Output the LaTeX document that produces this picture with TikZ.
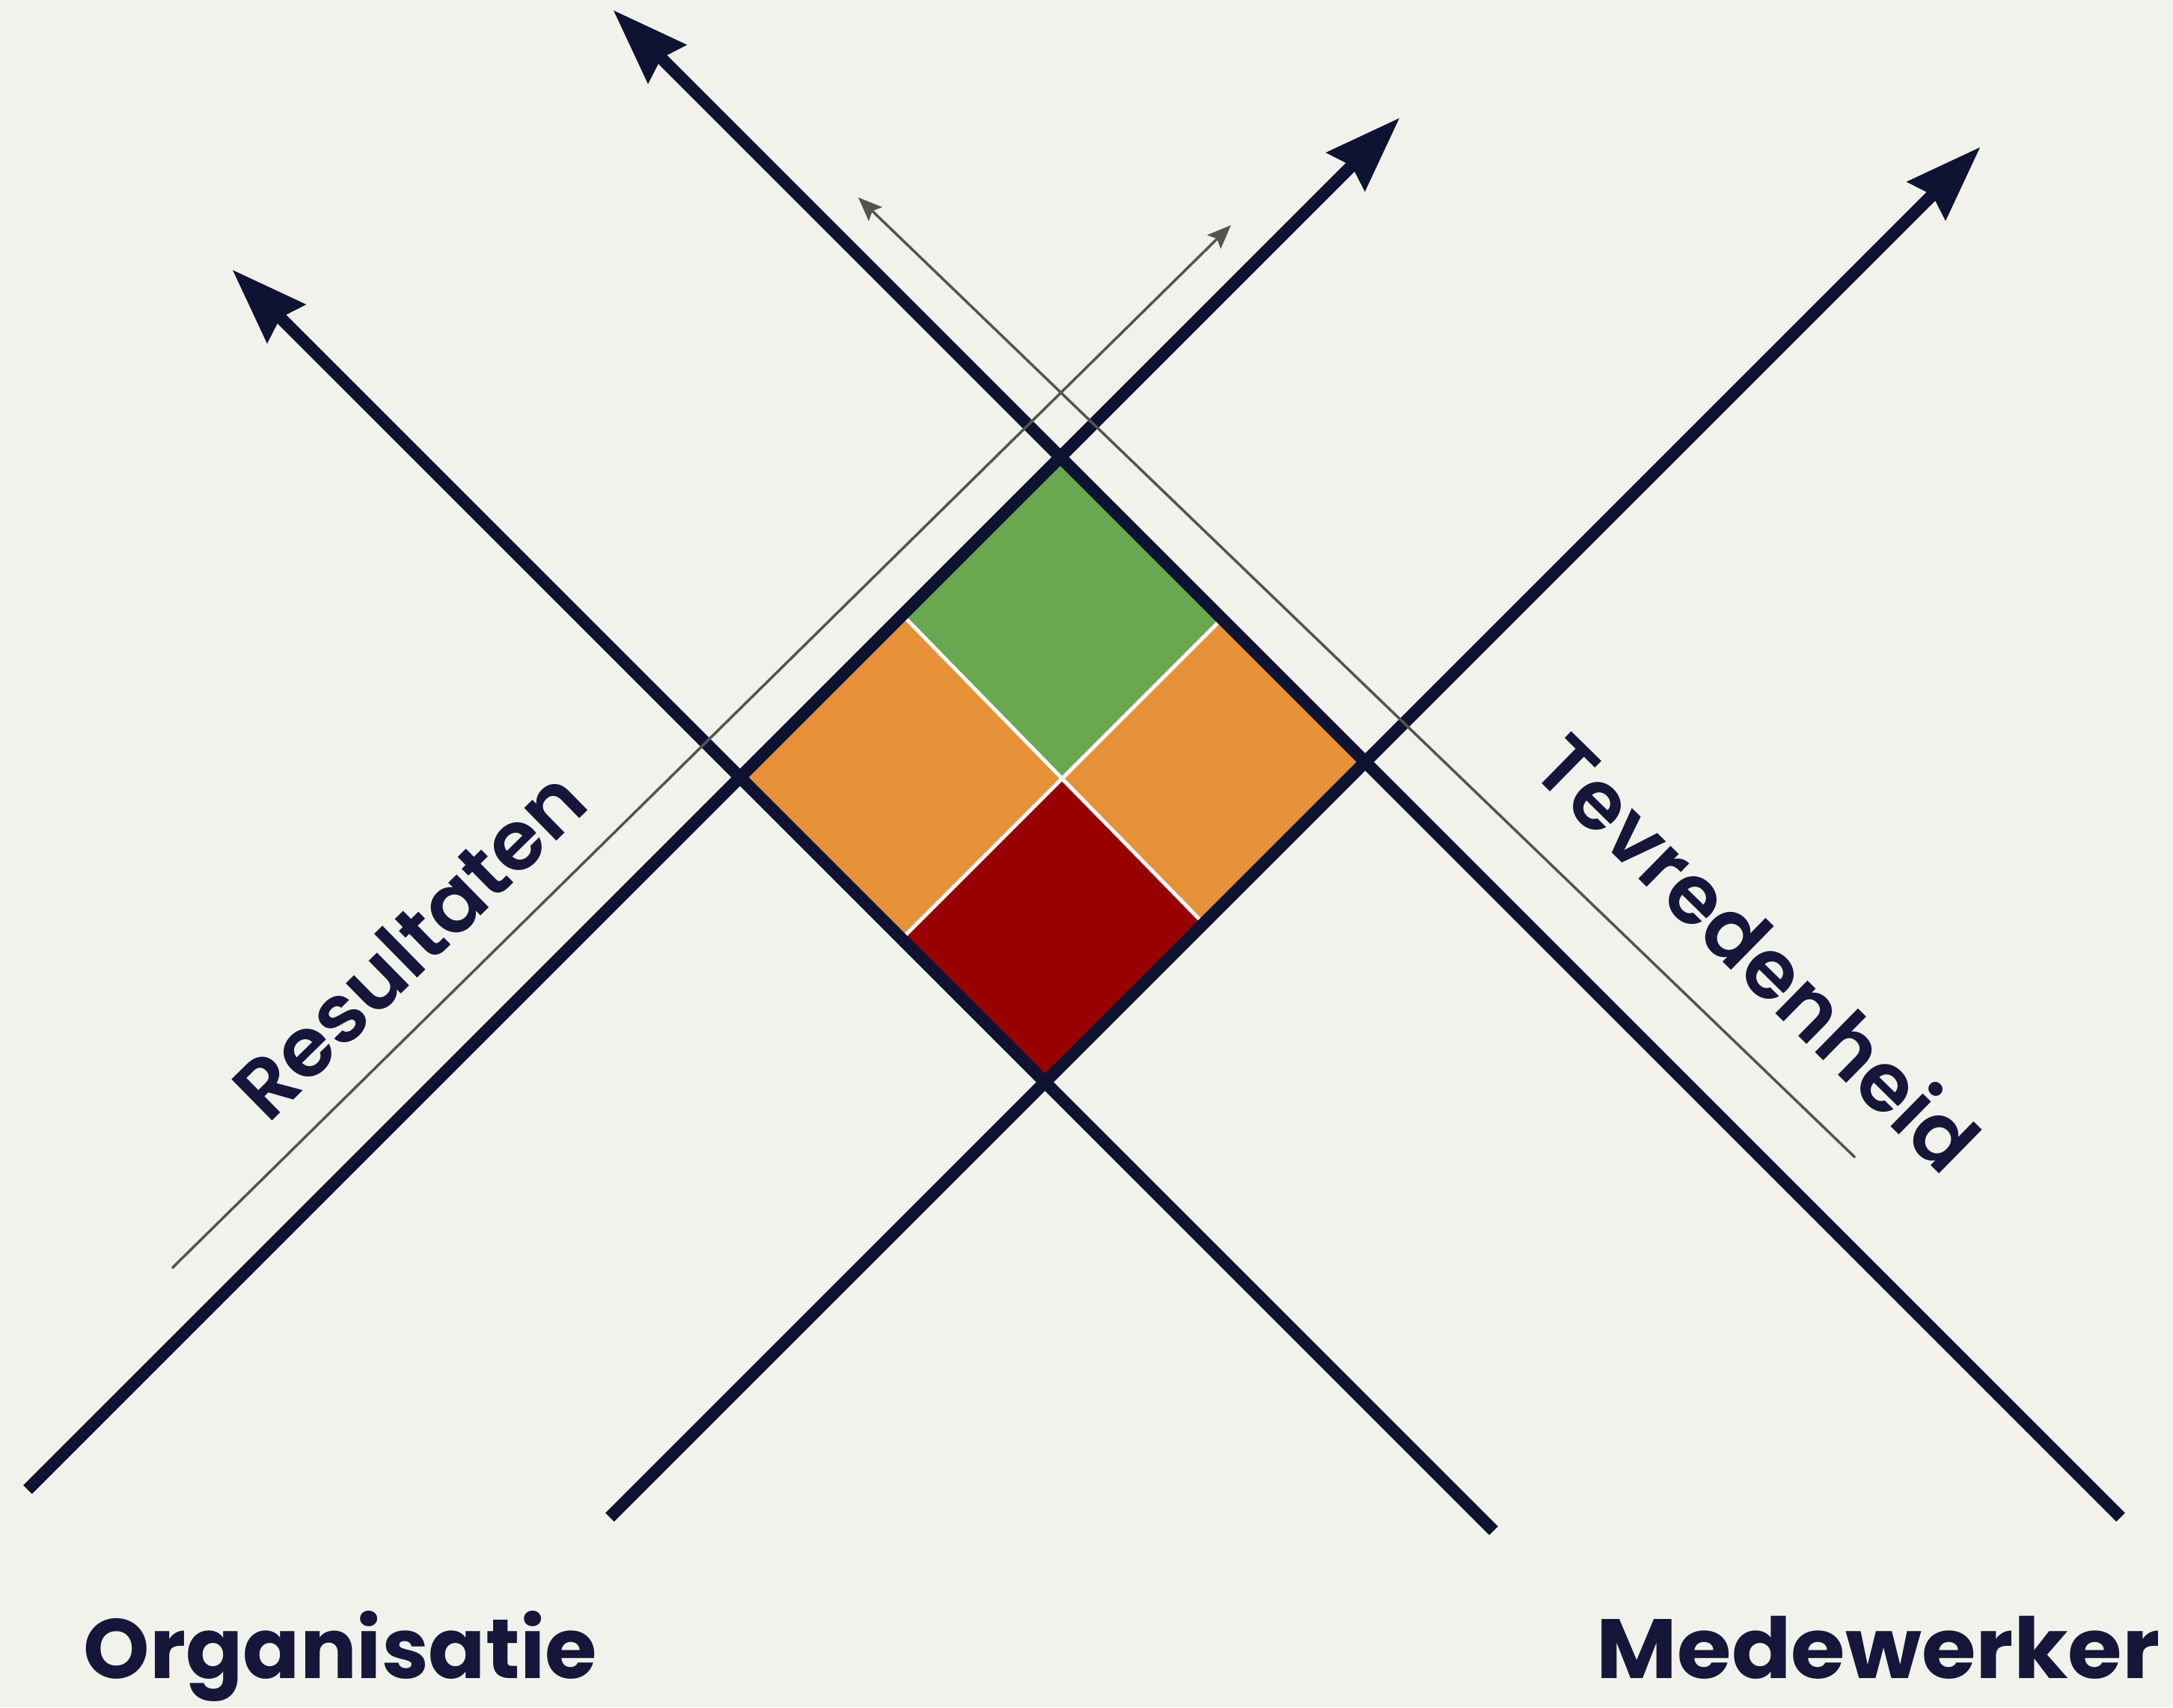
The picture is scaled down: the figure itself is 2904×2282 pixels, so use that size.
\documentclass[tikz,border=0pt]{standalone}
\usepackage{fontspec}
\setmainfont{Poppins}
\IfFontExistsTF{Poppins SemiBold}{\newfontfamily\popsemi{Poppins SemiBold}}{\newcommand\popsemi{\bfseries}}
\usetikzlibrary{arrows.meta}
\definecolor{bg}{HTML}{F2F2EC}
\definecolor{navy}{HTML}{0E1331}
\definecolor{ink}{HTML}{16163A}
\definecolor{cgreen}{HTML}{6AA84F}
\definecolor{corange}{HTML}{E69138}
\definecolor{cred}{HTML}{990000}
\definecolor{guidegray}{HTML}{55554F}
\begin{document}
\begin{tikzpicture}[x=0.01cm,y=-0.01cm,
  axisarrow/.style={draw=navy, line width=0.165cm, -{Stealth[length=1.02cm,width=0.74cm,inset=0.12cm,line width=0pt]}},
  guidearrow/.style={draw=guidegray, line width=0.035cm, -{Stealth[length=0.32cm,width=0.26cm,inset=0.06cm,line width=0pt]}},
  divider/.style={draw=white, line width=0.05cm},
  sidelbl/.style={text=ink, inner sep=0pt, font=\popsemi\fontsize{31.5}{37}\selectfont},
  baselbl/.style={text=ink, inner sep=0pt, font=\bfseries\fontsize{32}{38}\selectfont}]
\fill[bg] (0,0) rectangle (2904,2282);
\useasboundingbox (0,0) rectangle (2904,2282);
% diamond corners and grid points
\coordinate (T) at (1417.5,610.5);
\coordinate (L) at (989.5,1038.5);
\coordinate (R) at (1825,1018);
\coordinate (B) at (1397,1446);
\coordinate (TLm) at (1206,822);
\coordinate (TRm) at (1633.5,826.5);
\coordinate (C) at (1417,1043);
\coordinate (LBm) at (1205.5,1254.5);
\coordinate (RBm) at (1608.5,1234.5);
% cells
\fill[cgreen] (T) -- (TLm) -- (C) -- (TRm) -- cycle;
\fill[corange] (TLm) -- (L) -- (LBm) -- (C) -- cycle;
\fill[corange] (TRm) -- (C) -- (RBm) -- (R) -- cycle;
\fill[cred] (C) -- (LBm) -- (B) -- (RBm) -- cycle;
\draw[divider] (TLm) -- (RBm);
\draw[divider] (TRm) -- (LBm);
% axes
\coordinate (a1s) at (37,1991);   \coordinate (a1e) at (1870,158);
\coordinate (a2s) at (815,2028);  \coordinate (a2e) at (2646,197);
\coordinate (a3s) at (2834,2028); \coordinate (a3e) at (820,14);
\coordinate (a4s) at (1996,2046); \coordinate (a4e) at (311,361);
\draw[axisarrow] (a1s) -- (a1e);
\draw[axisarrow] (a2s) -- (a2e);
\draw[axisarrow] (a3s) -- (a3e);
\draw[axisarrow] (a4s) -- (a4e);
% guide arrows
\coordinate (g1s) at (230,1695);  \coordinate (g1e) at (1645,301);
\coordinate (g2s) at (2479,1547); \coordinate (g2e) at (1147,264);
\draw[guidearrow] (g1s) -- (g1e);
\draw[guidearrow] (g2s) -- (g2e);
% labels
\node[sidelbl, rotate=44.5] (res) at (546,1262) {Resultaten};
\node[sidelbl, rotate=-44.5] (tev) at (2350,1272) {Tevredenheid};
\node[baselbl, anchor=base west] (org) at (111,2243) {Organisatie};
\node[baselbl, anchor=base west] (med) at (2133,2243) {\scalebox{1.045}[1]{Medewerker}};
\end{tikzpicture}
\end{document}
